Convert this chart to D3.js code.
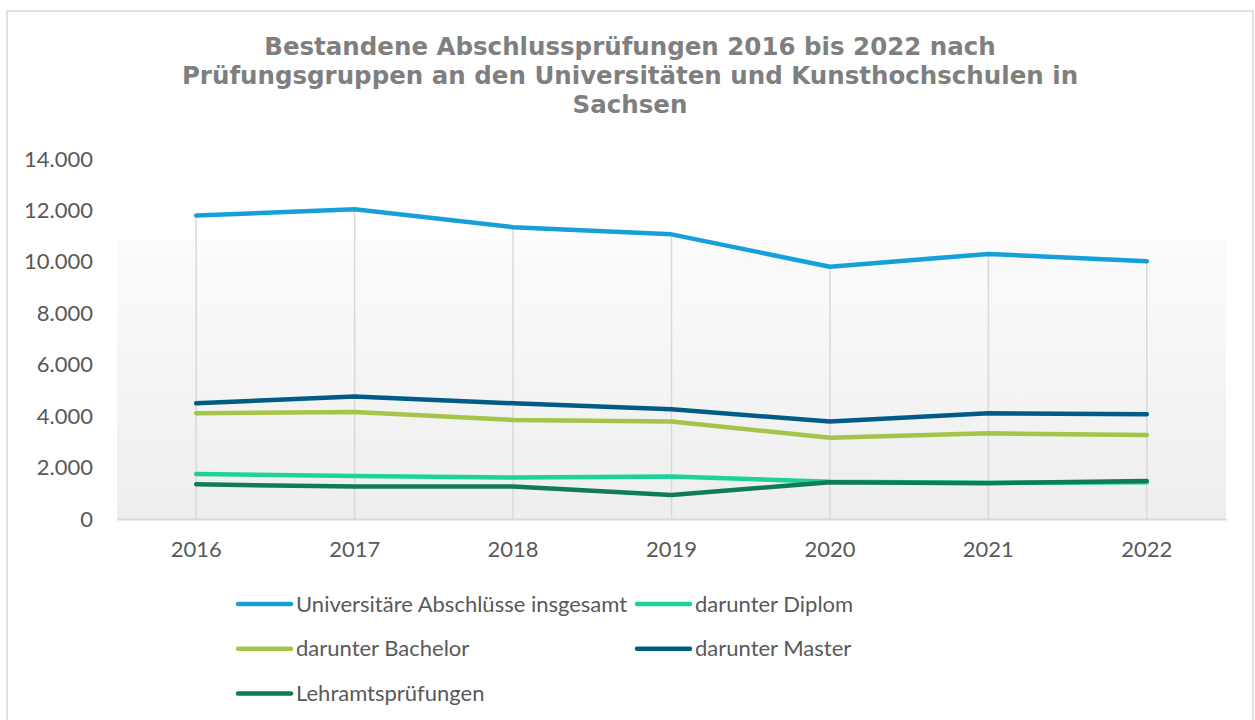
<!DOCTYPE html>
<html>
<head>
<meta charset="utf-8">
<script src="https://cdn.jsdelivr.net/npm/d3@7"></script>
<style>
  body { margin: 0; background: #fff; }
  svg { display: block; }
</style>
</head>
<body>
<svg class="chart"></svg>
<script>
var years = ["2016", "2017", "2018", "2019", "2020", "2021", "2022"];

var insgesamt = [11800, 12050, 11350, 11070, 9810, 10310, 10020];
var diplom = [1750, 1670, 1610, 1650, 1450, 1410, 1430];
var bachelor = [4110, 4160, 3850, 3790, 3160, 3330, 3270];
var master = [4500, 4760, 4500, 4270, 3790, 4110, 4070];
var lehramt = [1350, 1260, 1260, 930, 1430, 1390, 1480];

var seriesNames = [
    "Universitäre Abschlüsse insgesamt",
    "darunter Diplom",
    "darunter Bachelor",
    "darunter Master",
    "Lehramtsprüfungen"
];
var seriesColors = ["#16a0da", "#1dd19b", "#a6c44a", "#005c84", "#0f7b57"];

var yTicks = [0, 2000, 4000, 6000, 8000, 10000, 12000, 14000];

var titleLines = [
    "Bestandene Abschlussprüfungen 2016 bis 2022 nach",
    "Prüfungsgruppen an den Universitäten und Kunsthochschulen in",
    "Sachsen"
];

var series = [insgesamt, diplom, bachelor, master, lehramt].map(function(values, i) {
    return { name: seriesNames[i], color: seriesColors[i], values: values };
});

var width = 1255, height = 720;
var plot = { left: 117, right: 1226, top: 159, bottom: 519 };

var de = d3.formatLocale({ decimal: ",", thousands: ".", grouping: [3], currency: ["", " €"] });
var fmt = de.format(",d");

var svg = d3.select(".chart")
    .attr("width", width)
    .attr("height", height);

// frame of the chart
svg.append("rect")
    .attr("x", 7).attr("y", 11)
    .attr("width", 1246).attr("height", 720)
    .attr("fill", "#fff")
    .attr("stroke", "#d9d9d9")
    .attr("stroke-width", 1.5);

svg.append("g")
    .selectAll("text")
    .data(titleLines)
    .enter().append("text")
    .attr("x", 630)
    .attr("y", function(d, i) { return 55 + i * 29; })
    .attr("text-anchor", "middle")
    .attr("font-family", "DejaVu Sans")
    .attr("font-weight", "bold")
    .attr("font-size", "24.5px")
    .attr("fill", "#7f7f7f")
    .text(function(d) { return d; });

var x = d3.scaleBand()
    .domain(years)
    .range([plot.left, plot.right]);

var y = d3.scaleLinear()
    .domain([0, 14000])
    .range([plot.bottom, plot.top]);

function cx(d) { return x(d) + x.bandwidth() / 2; }

// plot area background, fading from white to light grey
var grad = svg.append("defs").append("linearGradient")
    .attr("id", "plotbg")
    .attr("x1", 0).attr("y1", 0).attr("x2", 0).attr("y2", 1);
grad.append("stop").attr("offset", "0%").attr("stop-color", "#fbfbfb");
grad.append("stop").attr("offset", "100%").attr("stop-color", "#eeeeee");

svg.append("rect")
    .attr("x", plot.left)
    .attr("y", 240)
    .attr("width", plot.right - plot.left)
    .attr("height", plot.bottom - 240)
    .attr("fill", "url(#plotbg)");

// drop lines from the highest point down to the axis
svg.append("g")
    .selectAll("line")
    .data(years)
    .enter().append("line")
    .attr("x1", cx).attr("x2", cx)
    .attr("y1", function(d, i) { return y(d3.max(series, function(s) { return s.values[i]; })); })
    .attr("y2", plot.bottom)
    .attr("stroke", "#d9d9d9")
    .attr("stroke-width", 1.5);

// x axis
var xAxis = svg.append("g")
    .attr("transform", "translate(0," + plot.bottom + ")")
    .call(d3.axisBottom(x).tickSize(0).tickPadding(22));
xAxis.select(".domain").attr("stroke", "#d9d9d9").attr("stroke-width", 2);
xAxis.selectAll(".tick text")
    .attr("font-family", "Lato")
    .attr("font-size", "22px")
    .attr("fill", "#595959");

// y axis, labels only
var yAxis = svg.append("g")
    .attr("transform", "translate(" + plot.left + ",0)")
    .call(d3.axisLeft(y).tickValues(yTicks).tickFormat(fmt).tickSize(0).tickPadding(24));
yAxis.select(".domain").remove();
yAxis.selectAll(".tick text")
    .attr("font-family", "Lato")
    .attr("font-size", "22px")
    .attr("fill", "#595959");

var line = d3.line()
    .x(function(d, i) { return cx(years[i]); })
    .y(function(d) { return y(d); });

svg.append("g")
    .selectAll("path")
    .data(series)
    .enter().append("path")
    .attr("d", function(d) { return line(d.values); })
    .attr("fill", "none")
    .attr("stroke", function(d) { return d.color; })
    .attr("stroke-width", 4.5)
    .attr("stroke-linecap", "round")
    .attr("stroke-linejoin", "round");

// legend
var legend = svg.append("g")
    .selectAll("g")
    .data(series)
    .enter().append("g")
    .attr("transform", function(d, i) {
        return "translate(" + (i % 2 ? 637 : 238) + "," + (604 + Math.floor(i / 2) * 44.7) + ")";
    });

legend.append("line")
    .attr("x1", 0).attr("x2", 53)
    .attr("stroke", function(d) { return d.color; })
    .attr("stroke-width", 4.5)
    .attr("stroke-linecap", "round");

legend.append("text")
    .attr("x", 58)
    .attr("dy", "0.35em")
    .attr("font-family", "Lato")
    .attr("font-size", "22px")
    .attr("fill", "#595959")
    .text(function(d) { return d.name; });
</script>
</body>
</html>
